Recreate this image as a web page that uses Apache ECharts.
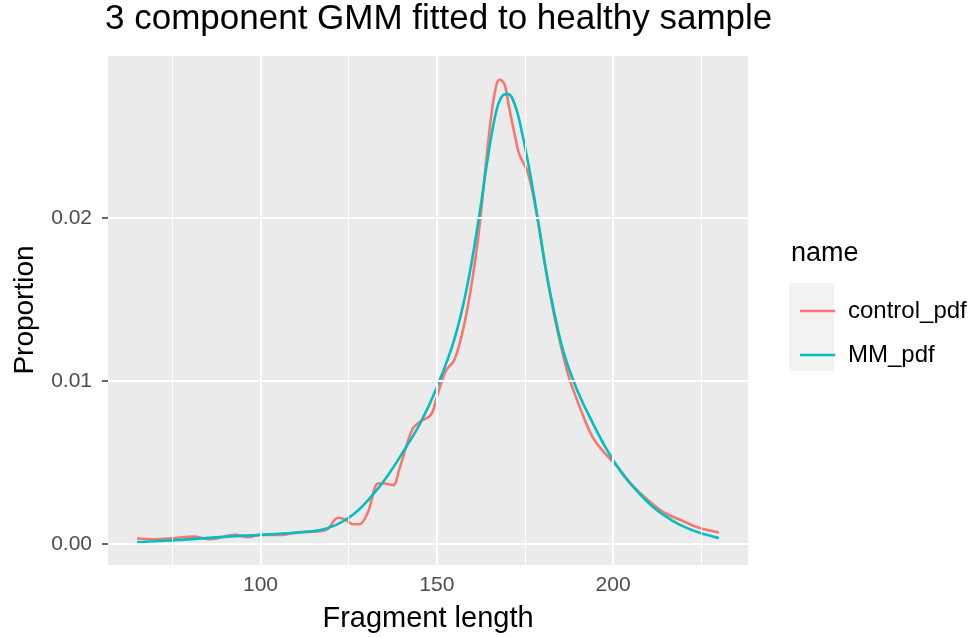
<!DOCTYPE html>
<html>
<head>
<meta charset="utf-8">
<script src="https://cdn.jsdelivr.net/npm/echarts@6/dist/echarts.min.js"></script>
<style>
  html, body { margin: 0; padding: 0; background: #ffffff; }
  #chart { width: 972px; height: 638px; }
</style>
</head>
<body>
<div id="chart"></div>
<script>
// Fragment length grid (bp) and observed density of the control sample
const controlX = [65, 70, 75, 81, 85.7, 92.8, 96.4, 100, 106, 110.7, 116.7, 119, 122, 123.9, 126.3, 128,
  130.4, 133.4, 135.2, 137.6, 139.4, 143, 145.3, 148.3, 150, 152.5, 154.9, 157.3, 159.7, 162, 164.4,
  166.2, 167.8, 169.2, 170.4, 172.2, 173.4, 175.8, 178.2, 181.1, 183.5, 187.1, 190.7, 194.3, 197.9,
  201.4, 205, 209.8, 214.6, 219.3, 224.1, 230];
const controlPdf = [0.00033, 0.00028, 0.00034, 0.00044, 0.00028, 0.00055, 0.0004, 0.00055, 0.00055, 0.0007,
  0.00077, 0.0009, 0.0016, 0.0015, 0.0012, 0.0012, 0.0019, 0.0037, 0.0037, 0.0036, 0.0046, 0.007, 0.0075,
  0.0079, 0.009, 0.0106, 0.01125, 0.013, 0.0157, 0.0193, 0.0243, 0.0274, 0.0285, 0.0282, 0.0269, 0.025,
  0.0239, 0.0228, 0.0204, 0.0166, 0.0138, 0.0105, 0.0083, 0.0065, 0.0055, 0.0047, 0.0037, 0.0027, 0.0019,
  0.00145, 0.001, 0.0007];

// Fitted 3 component mixture density
const mmX = [65, 70, 78.5, 90.5, 100, 109.5, 116.7, 121.5, 126.3, 131, 135.8, 140.6, 145.3, 150, 154.9,
  158.5, 162, 164.4, 166.8, 168.6, 170.2, 172.2, 174, 176.4, 178.8, 181.1, 183.5, 185.9, 189.5, 193.1,
  197.9, 202.6, 207.4, 212.2, 217, 221.7, 226, 230];
const mmPdf = [0.0001, 0.00016, 0.00026, 0.00044, 0.00055, 0.00068, 0.00083, 0.00116, 0.0018, 0.0028,
  0.0041, 0.0057, 0.0074, 0.0096, 0.0125, 0.0157, 0.0201, 0.0236, 0.0265, 0.0275, 0.0276, 0.0269, 0.0254,
  0.0228, 0.0197, 0.0166, 0.014, 0.0118, 0.0096, 0.0079, 0.0059, 0.0043, 0.0031, 0.0021, 0.0014, 0.0009,
  0.00058, 0.00035];

const seriesNames = ['control_pdf', 'MM_pdf'];
const seriesColors = ['#F8766D', '#00BFC4'];

// Axis breaks
const xMajor = [100, 150, 200];
const xMinor = [75, 125, 175, 225];
const yMajor = [0, 0.01, 0.02];
const yMinor = [0.005, 0.015, 0.025];

const FONT = "'Liberation Sans', Arial, sans-serif";

const zip = (xs, ys) => xs.map((x, i) => [x, ys[i]]);

const gridLines = [
  ...xMinor.map(v => ({ xAxis: v, lineStyle: { width: 1 } })),
  ...yMinor.map(v => ({ yAxis: v, lineStyle: { width: 1 } })),
  ...xMajor.map(v => ({ xAxis: v, lineStyle: { width: 2 } })),
  ...yMajor.map(v => ({ yAxis: v, lineStyle: { width: 2 } }))
];

const chart = echarts.init(document.getElementById('chart'), null, { renderer: 'canvas' });

chart.setOption({
  animation: false,
  backgroundColor: '#ffffff',
  color: seriesColors,
  textStyle: { fontFamily: FONT },
  title: {
    text: '3 component GMM fitted to healthy sample',
    left: 105,
    top: 2,
    padding: 0,
    textStyle: { fontFamily: FONT, fontSize: 35, fontWeight: 'normal', color: '#000000' }
  },
  grid: {
    left: 108, right: 224, top: 55, bottom: 73,
    show: true, backgroundColor: '#EBEBEB', borderWidth: 0
  },
  xAxis: {
    type: 'value',
    min: 56.75, max: 238.25,
    name: 'Fragment length',
    nameLocation: 'middle',
    nameGap: 39,
    nameTextStyle: { fontFamily: FONT, fontSize: 29, color: '#000000' },
    axisLine: { show: false },
    axisTick: { show: true, customValues: xMajor, length: 6, lineStyle: { color: '#333333', width: 1.5 } },
    axisLabel: { customValues: xMajor, margin: 10, fontSize: 21, color: '#4D4D4D', fontFamily: FONT },
    splitLine: { show: false }
  },
  yAxis: {
    type: 'value',
    min: -0.0013, max: 0.030,
    name: 'Proportion',
    nameLocation: 'middle',
    nameRotate: 90,
    nameGap: 69,
    nameTextStyle: { fontFamily: FONT, fontSize: 28, color: '#000000' },
    axisLine: { show: false },
    axisTick: { show: true, customValues: yMajor, length: 6, lineStyle: { color: '#333333', width: 1.5 } },
    axisLabel: {
      customValues: yMajor, margin: 16, fontSize: 21, color: '#4D4D4D', fontFamily: FONT,
      formatter: v => v.toFixed(2)
    },
    splitLine: { show: false }
  },
  legend: {
    data: seriesNames,
    orient: 'vertical',
    left: 795,
    top: 294,
    itemGap: 20,
    icon: 'rect',
    itemWidth: 35,
    itemHeight: 2.6,
    textStyle: { fontFamily: FONT, fontSize: 24, color: '#000000', padding: [0, 0, 0, 8] }
  },
  graphic: [
    { type: 'rect', left: 789, top: 283, shape: { width: 45, height: 44 }, style: { fill: '#F2F2F2' }, z: -1 },
    { type: 'rect', left: 789, top: 327, shape: { width: 45, height: 44 }, style: { fill: '#F2F2F2' }, z: -1 },
    { type: 'text', left: 791, top: 240, style: { text: 'name', font: "27px " + FONT, fill: '#000000' } }
  ],
  series: [
    {
      name: '_grid',
      type: 'line',
      data: [],
      silent: true,
      z: 1,
      markLine: {
        silent: true,
        symbol: 'none',
        label: { show: false },
        lineStyle: { color: '#ffffff', type: 'solid' },
        emphasis: { disabled: true },
        data: gridLines
      }
    },
    {
      name: seriesNames[0],
      type: 'line',
      z: 3,
      data: zip(controlX, controlPdf),
      smooth: 0.35,
      showSymbol: false,
      lineStyle: { width: 2.6, color: seriesColors[0] },
      itemStyle: { color: seriesColors[0] }
    },
    {
      name: seriesNames[1],
      type: 'line',
      z: 4,
      data: zip(mmX, mmPdf),
      smooth: 0.4,
      showSymbol: false,
      lineStyle: { width: 2.6, color: seriesColors[1] },
      itemStyle: { color: seriesColors[1] }
    }
  ]
});
</script>
</body>
</html>
